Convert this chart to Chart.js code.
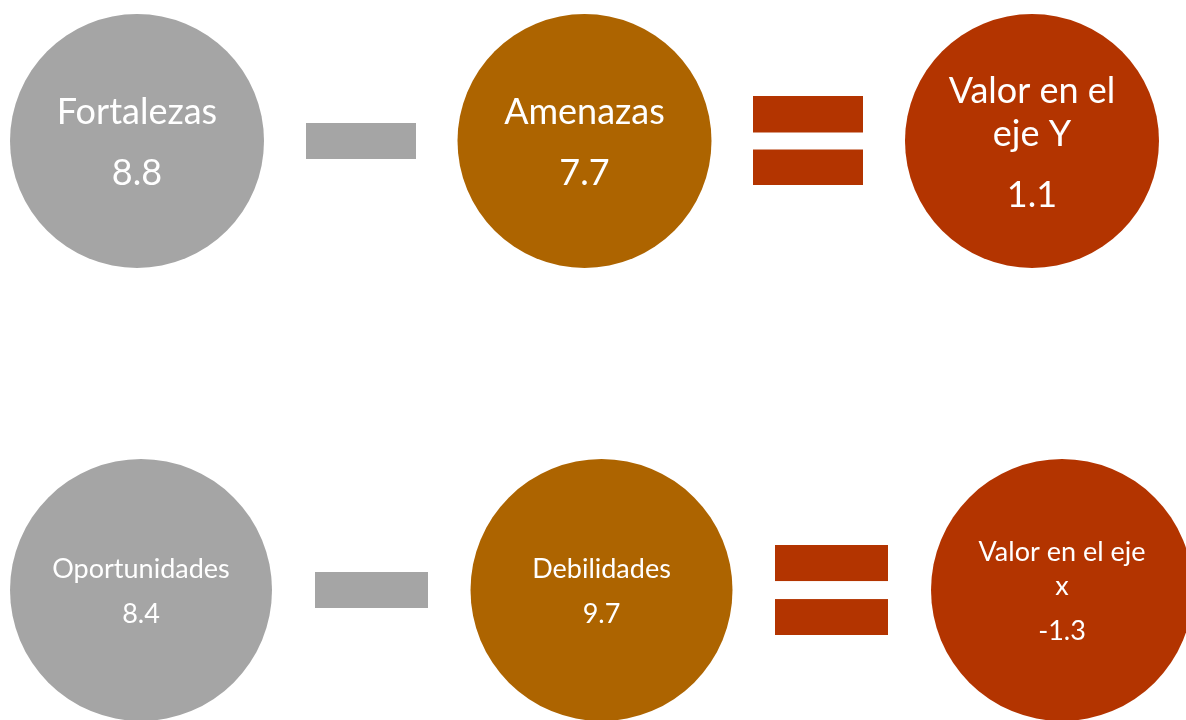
<!DOCTYPE html>
<html>
<head>
  <title>Valor en los ejes</title>
  <script src="https://cdn.jsdelivr.net/npm/chart.js"></script>
  <style>
    body { margin: 0; background: #ffffff; }
  </style>
</head>
<body>
  <canvas id="ejesChart" width="1186" height="720"></canvas>

  <script>
    // Data
    const topLabels = [['Fortalezas'], ['Amenazas'], ['Valor en el', 'eje Y']];
    const topValues = [8.8, 7.7, 1.1];
    const bottomLabels = [['Oportunidades'], ['Debilidades'], ['Valor en el eje', 'x']];
    const bottomValues = [8.4, 9.7, -1.3];
    const circleColumns = [0, 2, 4];
    const minusColumn = 1;
    const equalColumn = 3;

    const GRAY = '#A5A5A5';
    const BROWN = '#AD6400';
    const RED = '#B33400';
    const circleColors = [GRAY, BROWN, RED];

    // Draw a sign (minus or equal) into a small canvas used as pointStyle
    function makeSign(w, barH, gap, bars, color) {
      const c = document.createElement('canvas');
      const h = bars * barH + (bars - 1) * gap;
      c.width = w;
      c.height = h;
      const g = c.getContext('2d');
      g.fillStyle = color;
      for (let i = 0; i < bars; i++) {
        g.fillRect(0, i * (barH + gap), w, barH);
      }
      return c;
    }

    function circleDataset(row, xAxis, radius, values, labels) {
      return {
        label: 'row' + row,
        data: circleColumns.map((col, i) => ({ x: col, y: row, value: values[i], lines: labels[i] })),
        xAxisID: xAxis,
        yAxisID: 'y',
        backgroundColor: circleColors,
        borderWidth: 0,
        pointRadius: radius,
        pointHoverRadius: radius,
        clip: false,
        isCircle: true
      };
    }

    function signDataset(row, xAxis, col, img) {
      return {
        data: [{ x: col, y: row }],
        xAxisID: xAxis,
        yAxisID: 'y',
        pointStyle: img,
        pointRadius: 10,
        borderWidth: 0,
        clip: false
      };
    }

    // Text inside circles
    const circleText = {
      id: 'circleText',
      afterDatasetsDraw(chart) {
        const ctx = chart.ctx;
        chart.data.datasets.forEach((ds, di) => {
          if (!ds.isCircle) return;
          const big = ds.label === 'row0';
          const size = big ? 36 : 27;
          const lineGap = big ? 43 : 34;
          const valueGap = big ? 61 : 45;
          const meta = chart.getDatasetMeta(di);
          meta.data.forEach((pt, i) => {
            const item = ds.data[i];
            const rows = item.lines.concat([String(item.value)]);
            const total = (item.lines.length - 1) * lineGap + valueGap;
            let y = pt.y - total / 2 + 2;
            ctx.save();
            ctx.fillStyle = '#ffffff';
            ctx.font = size + 'px Lato, "Liberation Sans", sans-serif';
            ctx.textAlign = 'center';
            ctx.textBaseline = 'middle';
            rows.forEach((txt, k) => {
              ctx.fillText(txt, pt.x, y);
              y += (k === item.lines.length - 1) ? valueGap : lineGap;
            });
            ctx.restore();
          });
        });
      }
    };

    const ctx = document.getElementById('ejesChart').getContext('2d');

    new Chart(ctx, {
      type: 'scatter',
      data: {
        datasets: [
          circleDataset(0, 'x', 127, topValues, topLabels),
          signDataset(0, 'x', minusColumn, makeSign(110, 36, 0, 1, GRAY)),
          signDataset(0, 'x', equalColumn, makeSign(110, 36, 17, 2, RED)),
          circleDataset(1, 'x2', 131, bottomValues, bottomLabels),
          signDataset(1, 'x2', minusColumn, makeSign(113, 36, 0, 1, GRAY)),
          signDataset(1, 'x2', equalColumn, makeSign(113, 36, 18, 2, RED))
        ]
      },
      options: {
        responsive: false,
        animation: false,
        events: [],
        layout: { padding: 0, autoPadding: false },
        scales: {
          x: { type: 'linear', min: -0.6123, max: 4.6883, display: false },
          x2: { type: 'linear', min: -0.6124, max: 4.5385, display: false },
          y: { type: 'linear', reverse: true, min: -0.3140, max: 1.2895, display: false }
        },
        plugins: {
          legend: { display: false },
          tooltip: { enabled: false }
        }
      },
      plugins: [circleText]
    });
  </script>
</body>
</html>
